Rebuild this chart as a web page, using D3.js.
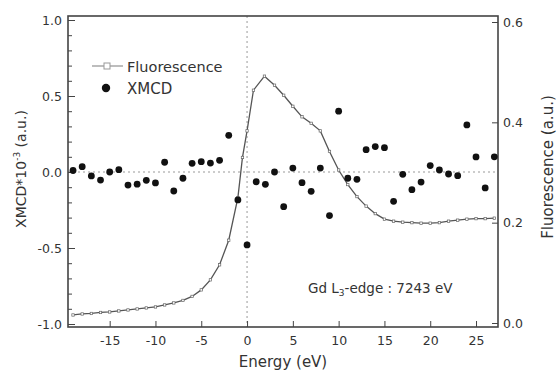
<!DOCTYPE html>
<html>
<head>
<meta charset="utf-8">
<script src="https://cdn.jsdelivr.net/npm/d3@7"></script>
<style>
  body { margin: 0; background: #fff; }
  text { font-family: "DejaVu Sans", Arial, sans-serif; fill: #333; }
</style>
</head>
<body>
<svg id="chart" width="558" height="372"></svg>
<script>
// XMCD points, one per eV
const xmcdEnergy = d3.range(-19, 28);
const xmcdValue = [
  0.01, 0.035, -0.026, -0.053, 0.0, 0.015, -0.086, -0.08, -0.055, -0.072,
  0.064, -0.125, -0.041, 0.057, 0.068, 0.059, 0.077, 0.241, -0.184, -0.48,
  -0.064, -0.081, 0.0, -0.228, 0.026, -0.07, -0.127, 0.026, -0.287, 0.40,
  -0.041, -0.048, 0.147, 0.167, 0.16, -0.193, -0.015, -0.116, -0.066, 0.042,
  0.013, -0.013, -0.024, 0.31, 0.099, -0.105, 0.10
];

// fluorescence curve
const fluoEnergy = [-19, -18, -17, -16, -15, -14, -13, -12, -11, -10, -9, -8, -7, -6, -5, -4, -3, -2, -1,
  -0.5, 0, 0.7, 1.9, 3, 4, 5, 6, 7, 8, 9, 10, 11, 12, 13, 14, 15, 16, 17, 18, 19, 20, 21, 22, 23, 24, 25, 26, 27];
const fluoValue = [0.016, 0.018, 0.019, 0.021, 0.022, 0.024, 0.026, 0.028, 0.030, 0.032, 0.036, 0.040, 0.045,
  0.053, 0.066, 0.086, 0.116, 0.165, 0.25, 0.33, 0.383, 0.464, 0.492, 0.474, 0.454, 0.432, 0.411, 0.398, 0.383,
  0.342, 0.305, 0.276, 0.252, 0.233, 0.218, 0.207, 0.203, 0.201, 0.200, 0.199, 0.199, 0.200, 0.203, 0.205,
  0.207, 0.208, 0.208, 0.209];

const xTicks = [-15, -10, -5, 0, 5, 10, 15, 20, 25];
const yLeftTicks = [-1.0, -0.5, 0.0, 0.5, 1.0];
const yLeftMinor = d3.range(-10, 11).map(d => d / 10);
const yRightTicks = [0.0, 0.2, 0.4, 0.6];

const svg = d3.select("#chart");
const frame = {left: 68, right: 498, top: 16, bottom: 327};

const x = d3.scaleLinear().domain([-19.55, 27.4]).range([frame.left, frame.right]);
const y = d3.scaleLinear().domain([-1, 1]).range([324, 20]);
const y2 = d3.scaleLinear().domain([0, 0.6]).range([323, 22]);

// plain hyphen instead of unicode minus
const fmt1 = d => d3.format(".1f")(d).replace("\u2212", "-");
const fmt0 = d => d3.format("d")(d).replace("\u2212", "-");

// reference lines
svg.append("line")
  .attr("x1", frame.left).attr("x2", frame.right)
  .attr("y1", y(0)).attr("y2", y(0))
  .attr("stroke", "#999").attr("stroke-width", 1).attr("stroke-dasharray", "2,3");
svg.append("line")
  .attr("x1", x(0)).attr("x2", x(0))
  .attr("y1", frame.top).attr("y2", frame.bottom)
  .attr("stroke", "#999").attr("stroke-width", 1).attr("stroke-dasharray", "2,3");

// left axis
svg.append("g")
  .attr("transform", `translate(${frame.left},0)`)
  .call(d3.axisRight(y).tickValues(yLeftMinor).tickSize(4).tickFormat(""))
  .call(g => g.select(".domain").remove())
  .call(g => g.selectAll("line").attr("stroke", "#444"));
svg.append("g")
  .attr("transform", `translate(${frame.left},0)`)
  .call(d3.axisLeft(y).tickValues(yLeftTicks).tickSize(-7).tickPadding(6).tickFormat(fmt1))
  .call(g => g.select(".domain").remove())
  .call(g => g.selectAll("line").attr("stroke", "#444"))
  .call(g => g.selectAll("text").attr("font-size", 12.5).attr("fill", "#333").attr("font-family", null));

// right axis
svg.append("g")
  .attr("transform", `translate(${frame.right},0)`)
  .call(d3.axisRight(y2).tickValues(yRightTicks).tickSize(-6).tickPadding(5).tickFormat(fmt1))
  .call(g => g.select(".domain").remove())
  .call(g => g.selectAll("line").attr("stroke", "#444"))
  .call(g => g.selectAll("text").attr("font-size", 12.5).attr("fill", "#333").attr("font-family", null));

// bottom axis
svg.append("g")
  .attr("transform", `translate(0,${frame.bottom})`)
  .call(d3.axisBottom(x).tickValues(xTicks).tickSize(-6).tickPadding(9).tickFormat(fmt0))
  .call(g => g.select(".domain").remove())
  .call(g => g.selectAll("line").attr("stroke", "#444"))
  .call(g => g.selectAll("text").attr("font-size", 12.5).attr("fill", "#333").attr("font-family", null));

// frame
svg.append("rect")
  .attr("x", frame.left).attr("y", frame.top)
  .attr("width", frame.right - frame.left).attr("height", frame.bottom - frame.top)
  .attr("fill", "none").attr("stroke", "#444").attr("stroke-width", 1.6);

// fluorescence
const fluo = fluoEnergy.map((e, i) => ({e: e, v: fluoValue[i]}));
svg.append("path")
  .datum(fluo)
  .attr("fill", "none")
  .attr("stroke", "#555")
  .attr("stroke-width", 1.3)
  .attr("d", d3.line().x(d => x(d.e)).y(d => y2(d.v)));
svg.append("g").selectAll("rect")
  .data(fluo)
  .join("rect")
  .attr("x", d => x(d.e) - 1.2).attr("y", d => y2(d.v) - 1.2)
  .attr("width", 2.4).attr("height", 2.4)
  .attr("fill", "#fff").attr("stroke", "#666").attr("stroke-width", 0.7);

// xmcd
svg.append("g").selectAll("circle")
  .data(xmcdEnergy.map((e, i) => ({e: e, v: xmcdValue[i]})))
  .join("circle")
  .attr("cx", d => x(d.e)).attr("cy", d => y(d.v))
  .attr("r", 3.4)
  .attr("fill", "#111");

// legend
const lg = svg.append("g");
lg.append("line").attr("x1", 92).attr("x2", 123).attr("y1", 66).attr("y2", 66)
  .attr("stroke", "#999").attr("stroke-width", 1.3);
lg.append("rect").attr("x", 104).attr("y", 63).attr("width", 6).attr("height", 6)
  .attr("fill", "#fff").attr("stroke", "#999").attr("stroke-width", 1);
lg.append("text").attr("x", 127).attr("y", 71.5).attr("font-size", 14.5).text("Fluorescence");
lg.append("circle").attr("cx", 106).attr("cy", 88).attr("r", 4.2).attr("fill", "#111");
lg.append("text").attr("x", 127).attr("y", 93.5).attr("font-size", 15).text("XMCD");

// annotation
const ann = svg.append("text").attr("x", 308).attr("y", 293).attr("font-size", 13.5);
ann.append("tspan").text("Gd L");
ann.append("tspan").attr("font-size", 9).attr("dy", 3).text("3");
ann.append("tspan").attr("dy", -3).text("-edge : 7243 eV");

// axis titles
svg.append("text")
  .attr("x", (frame.left + frame.right) / 2).attr("y", 367)
  .attr("text-anchor", "middle").attr("font-size", 15)
  .text("Energy (eV)");

const yl = svg.append("text")
  .attr("transform", "translate(26,169) rotate(-90)")
  .attr("text-anchor", "middle").attr("font-size", 14);
yl.append("tspan").text("XMCD*10");
yl.append("tspan").attr("font-size", 9).attr("dy", -6).text("-3");
yl.append("tspan").attr("dy", 6).text(" (a.u.)");

svg.append("text")
  .attr("transform", "translate(553,167) rotate(-90)")
  .attr("text-anchor", "middle").attr("font-size", 15)
  .text("Fluorescence (a.u.)");
</script>
</body>
</html>
